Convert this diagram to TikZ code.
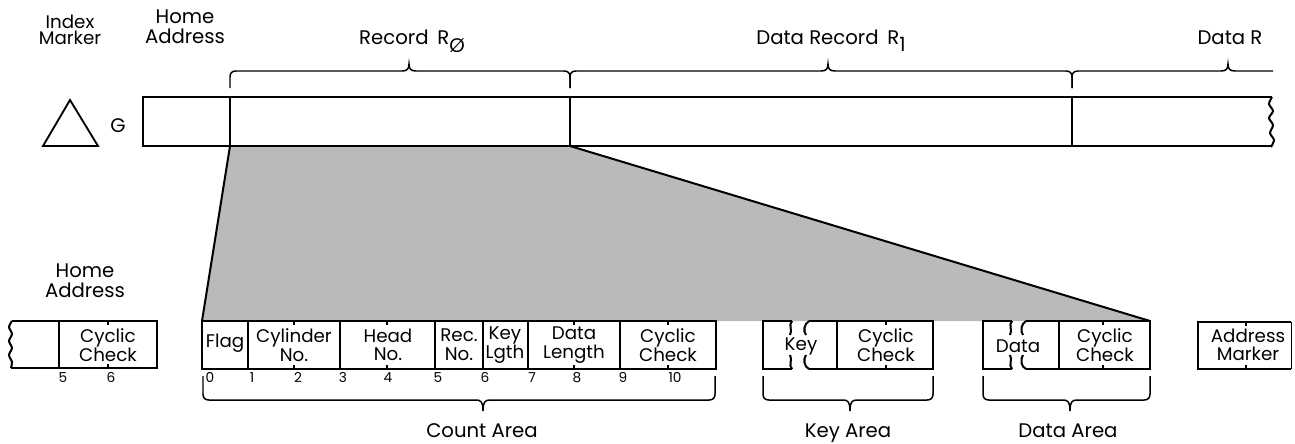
\documentclass[tikz,border=0pt]{standalone}
\usepackage{fontspec}
\setmainfont{Poppins}
\begin{document}
\begin{tikzpicture}[x=0.02cm,y=-0.02cm,
  track/.style={line width=1.15pt},
  box/.style={line width=1.15pt},
  brc/.style={line width=0.85pt},
  tk/.style={line width=0.85pt},
  lbl/.style={font=\fontsize{11.2}{11.6}\selectfont, align=center, inner sep=0pt},
  fld/.style={font=\fontsize{10.4}{10.6}\selectfont, align=center, inner sep=0pt},
  num/.style={font=\fontsize{7.8}{8}\selectfont, inner sep=0pt, anchor=base},
  shade/.style={fill=black!27}]
\useasboundingbox (0,0) rectangle (1295,443);

% brace opening downwards onto the track: left x, right x, cusp x
\newcommand\trackbrace[3]{%
  \draw[brc] (#1,88) -- (#1,77) .. controls (#1,73) and (#1+2,71) .. (#1+6,71)
    -- (#3-7,71) .. controls (#3-2,71) and (#3,69) .. (#3,64)
    .. controls (#3,69) and (#3+2,71) .. (#3+7,71)
    -- (#2-6,71) .. controls (#2-2,71) and (#2,73) .. (#2,77) -- (#2,88);}
% brace under a group of fields: left x, right x, cusp x
\newcommand\fieldbrace[3]{%
  \draw[brc] (#1,376) -- (#1,394) .. controls (#1,398) and (#1+2,400) .. (#1+6,400)
    -- (#3-7,400) .. controls (#3-2,400) and (#3,402) .. (#3,411)
    .. controls (#3,402) and (#3+2,400) .. (#3+7,400)
    -- (#2-6,400) .. controls (#2-2,400) and (#2,398) .. (#2,394) -- (#2,376);}

% magnified view of the count area
\fill[shade] (230,146) -- (570,146) -- (1150,321) -- (202,321) -- cycle;
\draw[box] (230,146) -- (202,321);
\draw[box] (570,146) -- (1150,321);

% ---- the track ----
\draw[line width=1.05pt] (43,146) -- (98,146) -- (70,100) -- cycle;
\node[lbl] (g) at (118,126) {G};
\fill[white] (143,97) rectangle (1271,146);
\draw[track] (1272,97) -- (143,97) -- (143,146) -- (1272,146);
\draw[track] plot[smooth] coordinates {(1272,97) (1269,104) (1273,111) (1269,118) (1273,125) (1270,133) (1274,140) (1271,147)};
\draw[track] (230,97) -- (230,146);
\draw[track] (570,97) -- (570,146);
\draw[track] (1072,97) -- (1072,146);

\node[lbl, font=\fontsize{10.4}{9.4}\selectfont] (im) at (70,30) {Index\\Marker};
\node[lbl] (ha) at (185,27) {Home\\Address};

\trackbrace{230}{570}{409}
\trackbrace{570}{1072}{828}
\draw[brc] (1072,88) -- (1072,77) .. controls (1072,73) and (1074,71) .. (1078,71)
    -- (1221,71) .. controls (1226,71) and (1228,69) .. (1228,64)
    .. controls (1228,69) and (1230,71) .. (1235,71) -- (1273,71);

\node[lbl, anchor=base] (r0) at (412,44) {Record\hspace{5pt}R\raisebox{-5pt}{Ø}};
\node[lbl, anchor=base] (r1) at (831,44) {Data Record\hspace{5pt}R\raisebox{-4pt}{1}};
\node[lbl, anchor=base] (rn) at (1230,44) {Data R};

% ---- home address ----
\node[lbl] (ha2) at (85,281) {Home\\Address};
\draw[box] (12,321) -- (157,321) -- (157,368) -- (11,368);
\draw[box] plot[smooth] coordinates {(12,321) (9,327) (12,334) (9,341) (12,348) (9,355) (12,362) (11,368)};
\draw[box] (59,321) -- (59,368);
\node[fld] (hacc) at (108,345) {Cyclic\\Check};
\draw[tk] (108,321) -- (108,325) (108,368) -- (108,364);
\node[num] (h5) at (63,382) {5};
\node[num] (h6) at (111,382) {6};

% ---- count area ----
\draw[box] (202,321) rectangle (716,369);
\foreach \x in {248,340,435,483,528,620} \draw[box] (\x,321) -- (\x,369);
\foreach \x in {294,387,574,668} \draw[tk] (\x,321) -- (\x,325) (\x,369) -- (\x,365);
\node[fld] (flag) at (225,343) {Flag};
\node[fld] (cyl) at (294,345) {Cylinder\\No.};
\node[fld] (head) at (388,345) {Head\\No.};
\node[fld] (rec) at (459,345) {Rec.\\No.};
\node[fld] (kl) at (505,345) {Key\\Lgth};
\node[fld] (dl) at (574,345) {Data\\Length};
\node[fld] (ccc) at (668,345) {Cyclic\\Check};
\foreach \n/\x in {0/210,1/252,2/298,3/343,4/388,5/438,6/485,7/532,8/577,9/623,10/675}
  \node[num] (b\n) at (\x,382) {\n};
\fieldbrace{203}{715}{483}
\node[lbl, anchor=base] (ca) at (482,437) {Count Area};

% ---- key area ----
\draw[box] (792,321) -- (763,321) -- (763,369) -- (792,369);
\draw[box] (792,321) .. controls (788,325) and (793,330) .. (790,335);
\draw[box] (790,355) .. controls (793,360) and (788,365) .. (792,369);
\draw[box] (809,321) .. controls (804,324) and (803,331) .. (806,335);
\draw[box] (806,355) .. controls (803,359) and (804,367) .. (809,369);
\draw[box] (809,321) -- (933,321) -- (933,369) -- (809,369);
\draw[box] (837,321) -- (837,369);
\draw[tk] (886,321) -- (886,325) (886,369) -- (886,365);
\node[fld] (key) at (801,346) {Key};
\node[fld] (kcc) at (886,345) {Cyclic\\Check};
\fieldbrace{763}{933}{850}
\node[lbl, anchor=base] (ka) at (848,437) {Key Area};

% ---- data area ----
\draw[box] (1012,321) -- (983,321) -- (983,369) -- (1012,369);
\draw[box] (1012,321) .. controls (1008,325) and (1013,330) .. (1010,335);
\draw[box] (1010,355) .. controls (1013,360) and (1008,365) .. (1012,369);
\draw[box] (1026,321) .. controls (1021,324) and (1020,331) .. (1023,335);
\draw[box] (1023,355) .. controls (1020,359) and (1021,367) .. (1026,369);
\draw[box] (1026,321) -- (1150,321) -- (1150,369) -- (1026,369);
\draw[box] (1059,321) -- (1059,369);
\draw[tk] (1103,321) -- (1103,325) (1103,369) -- (1103,365);
\node[fld] (data) at (1018,346) {Data};
\node[fld] (dcc) at (1105,345) {Cyclic\\Check};
\fieldbrace{983}{1150}{1070}
\node[lbl, anchor=base] (da) at (1068,437) {Data Area};

% ---- address marker ----
\draw[box] (1291,322) -- (1198,322) -- (1198,369) -- (1291,369);
\draw[line width=0.5pt] (1291,322) -- (1291,369);
\draw[tk] (1246,322) -- (1246,326) (1246,369) -- (1246,365);
\node[fld] (am) at (1248,345) {Address\\Marker};
\end{tikzpicture}
\end{document}
